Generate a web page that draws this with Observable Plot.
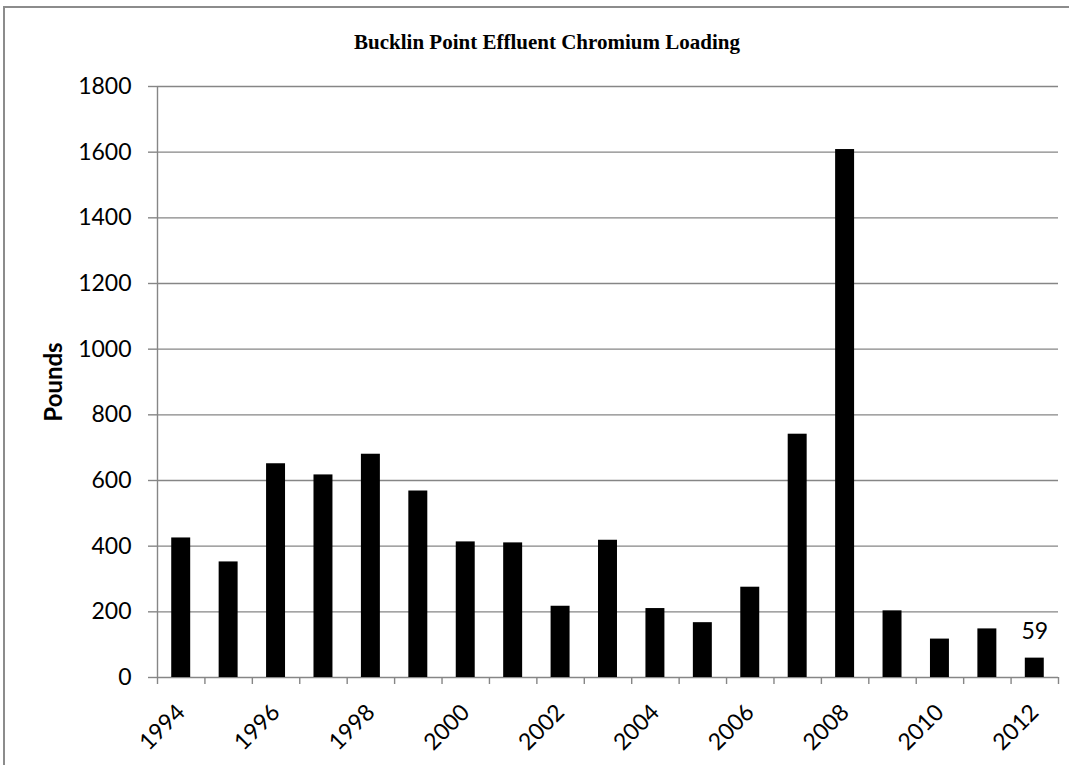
<!DOCTYPE html>
<html>
<head>
<meta charset="utf-8">
<script src="https://cdn.jsdelivr.net/npm/d3@7"></script>
<script src="https://cdn.jsdelivr.net/npm/@observablehq/plot@0.6"></script>
<style>
  html, body { margin: 0; padding: 0; background: #fff; overflow: hidden; }
  #wrap { position: relative; width: 1069px; height: 765px; overflow: hidden; }
  #frame { position: absolute; left: 3px; top: 6px; width: 1200px; height: 900px; border: 2px solid #8c8c8c; box-sizing: border-box; pointer-events: none; }
  #chart { position: absolute; left: 0; top: 0; }
</style>
</head>
<body>
<div id="wrap">
  <div id="chart"></div>
  <div id="frame"></div>
</div>
<script>
const years = [1994, 1995, 1996, 1997, 1998, 1999, 2000, 2001, 2002, 2003, 2004, 2005, 2006, 2007, 2008, 2009, 2010, 2011, 2012];
const pounds = [425, 352, 651, 617, 680, 568, 413, 410, 217, 418, 210, 167, 275, 741, 1608, 203, 117, 148, 59];
const yTicks = [0, 200, 400, 600, 800, 1000, 1200, 1400, 1600, 1800];
const xLabelYears = [1994, 1996, 1998, 2000, 2002, 2004, 2006, 2008, 2010, 2012];
const labelledYear = 2012;
const titleText = "Bucklin Point Effluent Chromium Loading";
const yLabelText = "Pounds";

const data = years.map((y, i) => ({year: y, value: pounds[i]}));
const boundaries = years.map(y => y - 0.5).concat([years[years.length - 1] + 0.5]);
const grey = "#868686";
const font = "Lato, 'Open Sans', sans-serif";
const fs = 23;

const chart = Plot.plot({
  width: 1069,
  height: 765,
  marginLeft: 157,
  marginRight: 11,
  marginTop: 86,
  marginBottom: 88,
  style: {fontFamily: font, fontSize: fs + "px", color: "#000", background: "transparent"},
  x: {domain: [years[0] - 0.5, years[years.length - 1] + 0.5]},
  y: {domain: [0, 1800]},
  marks: [
    Plot.ruleY(yTicks, {stroke: grey, strokeWidth: 1.4}),
    Plot.ruleX([years[0] - 0.5], {stroke: grey, strokeWidth: 1.4}),
    Plot.rectY(data, {x1: d => d.year - 0.2, x2: d => d.year + 0.2, y: "value", fill: "#000"}),
    Plot.axisY({ticks: yTicks, tickSize: 9, tickPadding: 17, stroke: grey, strokeWidth: 1.4, label: null, tickFormat: d => String(d), fontSize: fs}),
    Plot.axisX({ticks: boundaries, tickSize: 7, tickFormat: () => "", stroke: grey, strokeWidth: 1.4, label: null}),
    Plot.text(xLabelYears, {x: d => d, text: d => String(d), frameAnchor: "bottom", dy: 31, rotate: -45, textAnchor: "end", lineAnchor: "middle", fontSize: fs}),
    Plot.text(data.filter(d => d.year === labelledYear), {x: "year", y: "value", text: d => String(d.value), dy: -19, lineAnchor: "bottom", fontSize: fs}),
    Plot.text([yLabelText], {frameAnchor: "left", dx: -103, rotate: -90, textAnchor: "middle", fontWeight: "bold", fontSize: 24, lineAnchor: "middle"}),
    Plot.text([titleText], {frameAnchor: "top", dx: -61, dy: -38, lineAnchor: "bottom", fontFamily: "'Liberation Serif', 'Times New Roman', serif", fontWeight: "bold", fontSize: 21})
  ]
});
document.getElementById("chart").appendChild(chart);
</script>
</body>
</html>
